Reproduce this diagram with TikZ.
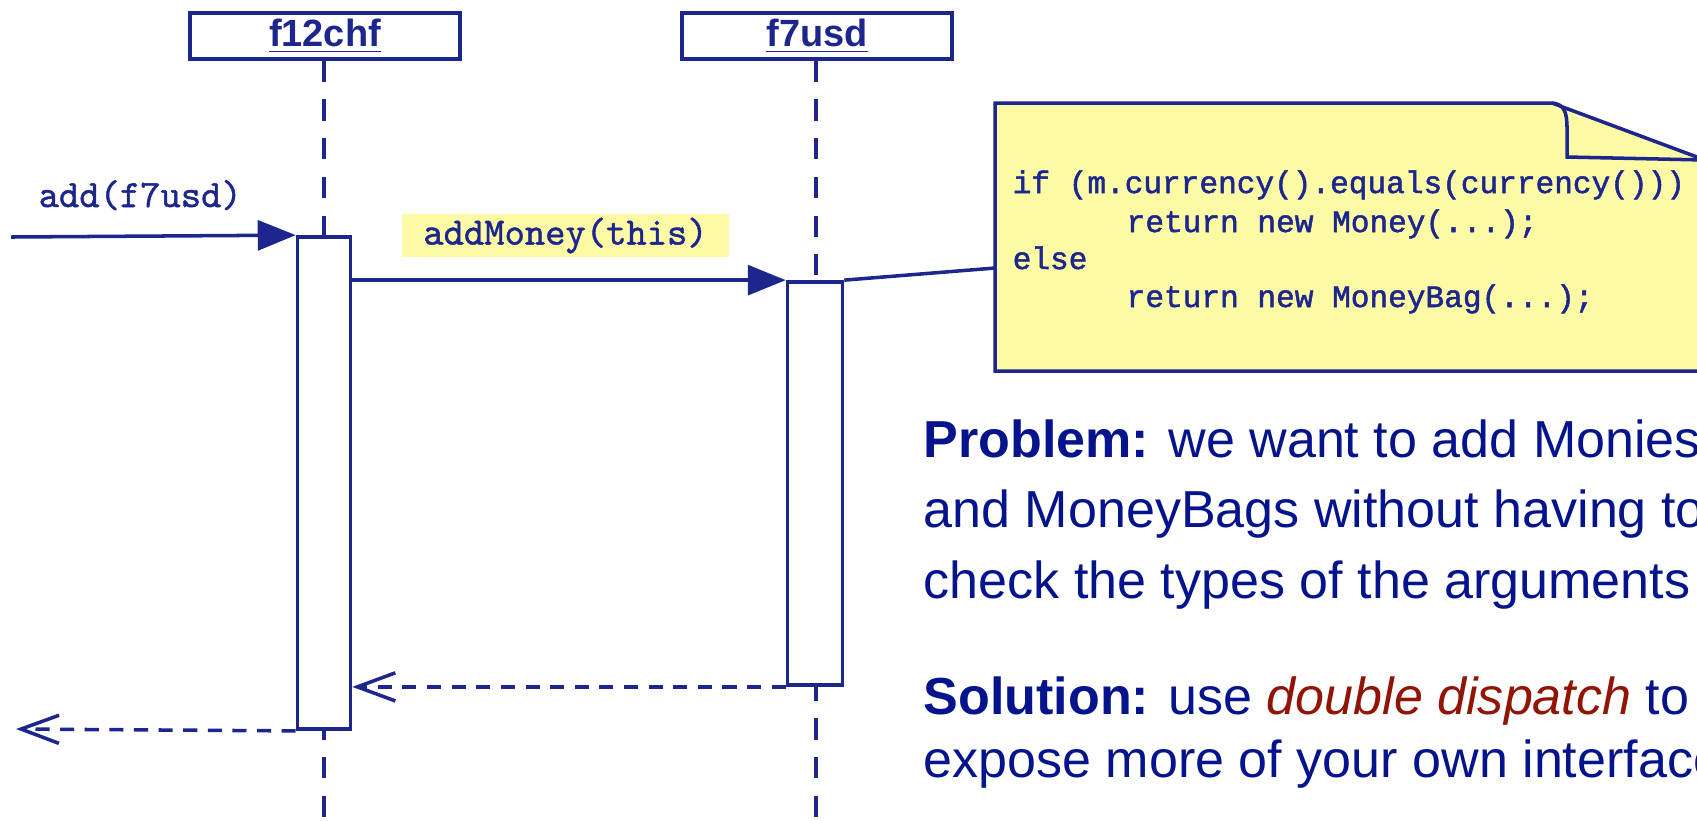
\documentclass[tikz,border=0pt]{standalone}
\usepackage{fontspec}
\setmainfont{Liberation Sans}
\newfontfamily\codefont[FakeBold=1.6]{Liberation Mono}
\newfontfamily\msgfont[FakeBold=1.2]{lmmono10-regular.otf}
\usetikzlibrary{arrows.meta,positioning}

\definecolor{umlblue}{RGB}{28,38,140}
\definecolor{textblue}{RGB}{5,20,140}
\definecolor{darkred}{RGB}{145,20,5}
\definecolor{noteyellow}{RGB}{252,250,165}

\tikzset{
  objbox/.style={draw=umlblue,line width=1pt,minimum width=2.7cm,minimum height=0.46cm,
    inner sep=0pt,text=umlblue,font=\fontsize{10.8}{12}\selectfont\bfseries},
  actbox/.style={draw=umlblue,fill=white,line width=1pt,minimum width=0.53cm,inner sep=0pt},
  lifeline/.style={draw=umlblue,line width=0.9pt,dash pattern=on 6pt off 5pt},
  call/.style={draw=umlblue,line width=1pt,-{Triangle[length=10.8pt,width=8.5pt]}},
  reply/.style={draw=umlblue,line width=1pt,dash pattern=on 4pt off 3pt,
    -{Straight Barb[length=10.8pt,width=8pt]}},
  msg/.style={text=umlblue,inner sep=0pt,font=\msgfont\fontsize{11}{13}\selectfont},
  codeline/.style={anchor=base west,inner sep=0pt,text=umlblue,font=\codefont\fontsize{8.85}{10.8}\selectfont},
  slidetext/.style={anchor=base west,inner sep=0pt,text=textblue,font=\fontsize{14.8}{18}\selectfont}
}

\begin{document}
\begin{tikzpicture}[x=0.01cm,y=-0.01cm]
  \useasboundingbox (0,0) rectangle (1697,820);
  \clip (0,0) rectangle (1697,820);

  % objects and lifelines
  \node[objbox] (chf) at (325,36) {\underline{f12chf}};
  \node[objbox] (usd) at (817,36) {\underline{f7usd}};
  \coordinate (chfend) at (324,820);
  \coordinate (usdend) at (816,820);
  \draw[lifeline] (chf.south -| chfend) -- (chfend);
  \draw[lifeline] (usd.south -| usdend) -- (usdend);

  % activations
  \node[actbox,minimum height=4.92cm] (act1) at (324,483) {};
  \node[actbox,minimum height=4.03cm,minimum width=0.55cm] (act2) at (815,483.5) {};

  % messages
  \coordinate (callin) at (11,237);
  \coordinate (callout) at (16,729);
  \draw[call] (callin) -- (act1.north west);
  \node[msg,anchor=base west] (addlbl) at (38,207) {add(f7usd)};
  \draw[call] (act1.east |- act2.north) -- (act2.north west);
  \node[msg,fill=noteyellow,minimum width=3.27cm,minimum height=0.43cm] (moneylbl) at (565.5,235.5) {addMoney(this)};
  \draw[reply] (act2.south west) -- (act1.east |- act2.south);
  \draw[reply] (act1.south west) -- (callout);

  % note
  \draw[umlblue,line width=1pt,fill=noteyellow]
    (995,103) -- (1552,103) -- (1705,160) -- (1705,371) -- (995,371) -- cycle;
  \draw[umlblue,line width=1pt]
    (1552,103) .. controls (1564,104) and (1567,112) .. (1567,128) -- (1567,157) -- (1705,160);
  \coordinate (notepin) at (995,268);
  \draw[umlblue,line width=1pt] (act2.north east) -- (notepin);
  \foreach \x/\y/\txt [count=\i] in {1012/193/{if (m.currency().equals(currency()))},
      1126/232/{return new Money(...);},
      1012/269/{else},
      1126/307/{return new MoneyBag(...);}}
    \node[codeline] (code\i) at (\x,\y) {\txt};

  % text
  \node[slidetext] (prob1) at (923,457) {\textbf{Problem:} we want to add Monies};
  \node[slidetext] (prob2) at (923,527) {and MoneyBags without having to};
  \node[slidetext] (prob3) at (923,598) {check the types of the arguments};
  \node[slidetext] (sol1) at (923,714) {\textbf{Solution:} use \textcolor{darkred}{\textit{double dispatch}} to};
  \node[slidetext] (sol2) at (923,777) {expose more of your own interface};

\end{tikzpicture}
\end{document}
